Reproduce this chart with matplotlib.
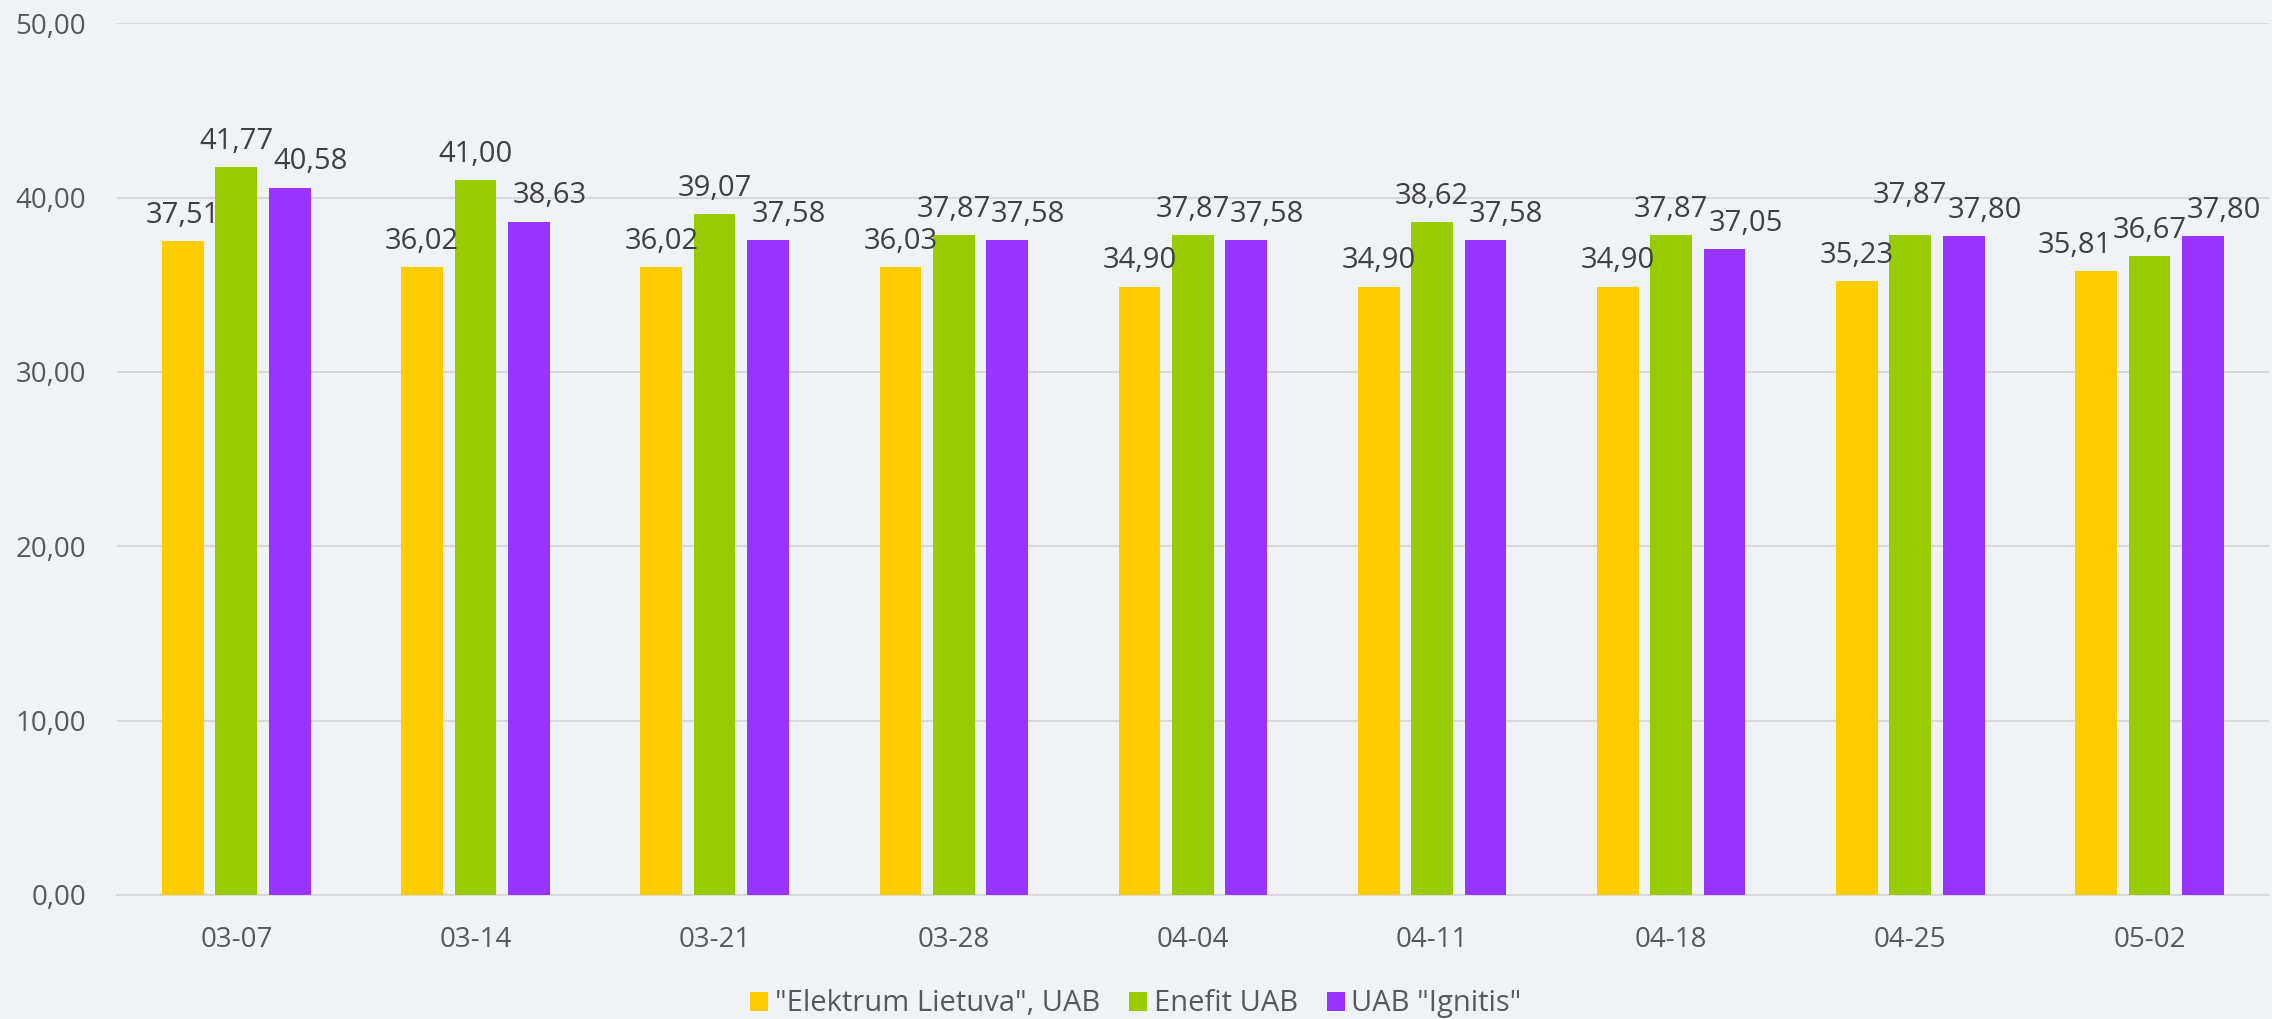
import matplotlib.pyplot as plt
import numpy as np

# Duomenys
dates = ["03-07", "03-14", "03-21", "03-28", "04-04", "04-11", "04-18", "04-25", "05-02"]
elektrum = [37.51, 36.02, 36.02, 36.03, 34.90, 34.90, 34.90, 35.23, 35.81]
enefit = [41.77, 41.00, 39.07, 37.87, 37.87, 38.62, 37.87, 37.87, 36.67]
ignitis = [40.58, 38.63, 37.58, 37.58, 37.58, 37.58, 37.05, 37.80, 37.80]
names = ['"Elektrum Lietuva", UAB', "Enefit UAB", 'UAB "Ignitis"']

colors = ["#FFCC00", "#99CC00", "#9933FF"]
bg = "#EFF3F7"
dpi = 100
lab_off = 8

plt.rcParams["font.family"] = ["Open Sans", "DejaVu Sans"]

fig = plt.figure(figsize=(22.72, 10.19), dpi=dpi, facecolor=bg)
ax = fig.add_axes([0.0514, 0.1217, 0.9473, 0.8554])
ax.set_facecolor(bg)

x = np.arange(len(dates))
width = 0.1745
step = 0.223

series = [elektrum, enefit, ignitis]
labels = []
for k, vals in enumerate(series):
    pos = x + (k - 1) * step
    ax.bar(pos, vals, width, color=colors[k], label=names[k], zorder=3)
    row = []
    for i, (xi, v) in enumerate(zip(pos, vals)):
        dy = lab_off
        # kai žalia ir violetinė beveik lygios, žalia etiketė pakeliama
        if k == 1 and abs(enefit[i] - ignitis[i]) < 0.15:
            dy = lab_off + 10
        t = ax.annotate(f"{v:.2f}".replace(".", ","), (xi, v), xytext=(0, dy),
                        textcoords="offset points", ha="center", va="bottom",
                        fontsize=21, color="#404040", zorder=4)
        row.append(t)
    labels.append(row)

ax.set_xlim(-0.5, len(dates) - 0.5)
ax.set_ylim(0, 50)
ax.set_yticks(np.arange(0, 51, 10))
ax.set_yticklabels([f"{v:.2f}".replace(".", ",") for v in np.arange(0, 51, 10)])
ax.set_xticks(x)
ax.set_xticklabels(dates)
ax.tick_params(axis="both", length=0, labelsize=20, labelcolor="#595959")
ax.tick_params(axis="y", pad=22)
ax.tick_params(axis="x", pad=22)
ax.grid(axis="y", color="#D9D9D9", linewidth=1.5, zorder=0)
for s in ["top", "right", "left"]:
    ax.spines[s].set_visible(False)
ax.spines["bottom"].set_color("#D9D9D9")
ax.spines["bottom"].set_linewidth(1.5)

# Etikečių persidengimo taisymas (kaip Excel)
fig.canvas.draw()
renderer = fig.canvas.get_renderer()
for i in range(len(dates)):
    mid = labels[1][i].get_window_extent(renderer)
    y_mid = ax.transData.transform((0, enefit[i]))[1]
    for k, thr in ((0, 20), (2, 45)):
        t = labels[k][i]
        bb = t.get_window_extent(renderer)
        y_k = ax.transData.transform((0, series[k][i]))[1]
        if abs(y_mid - y_k) >= thr:
            continue
        if k == 0:
            shift = min(0, mid.x0 - bb.x1)
        else:
            shift = max(0, mid.x1 - bb.x0)
        t.xyann = (shift * 72 / dpi, lab_off)

fig.legend(loc="center", bbox_to_anchor=(0.5, 0.0149), ncol=3, frameon=False,
           fontsize=21, labelcolor="#595959", handlelength=0.62, handleheight=0.62,
           handletextpad=0.22, columnspacing=1.0)

fig.savefig("out.png", dpi=dpi, facecolor=bg)
